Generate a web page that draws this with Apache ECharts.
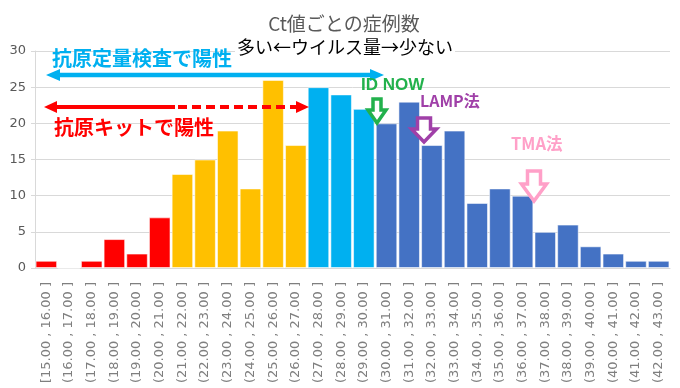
<!DOCTYPE html>
<html>
<head>
<meta charset="utf-8">
<script src="https://cdn.jsdelivr.net/npm/echarts@6/dist/echarts.min.js"></script>
<style>
html,body{margin:0;padding:0;background:#fff;}
#chart{width:680px;height:388px;}
</style>
</head>
<body>
<div id="chart"></div>
<script>
const categories = [
  "[15.00 , 16.00 ]","(16.00 , 17.00 ]","(17.00 , 18.00 ]","(18.00 , 19.00 ]","(19.00 , 20.00 ]",
  "(20.00 , 21.00 ]","(21.00 , 22.00 ]","(22.00 , 23.00 ]","(23.00 , 24.00 ]","(24.00 , 25.00 ]",
  "(25.00 , 26.00 ]","(26.00 , 27.00 ]","(27.00 , 28.00 ]","(28.00 , 29.00 ]","(29.00 , 30.00 ]",
  "(30.00 , 31.00 ]","(31.00 , 32.00 ]","(32.00 , 33.00 ]","(33.00 , 34.00 ]","(34.00 , 35.00 ]",
  "(35.00 , 36.00 ]","(36.00 , 37.00 ]","(37.00 , 38.00 ]","(38.00 , 39.00 ]","(39.00 , 40.00 ]",
  "(40.00 , 41.00 ]","(41.00 , 42.00 ]","(42.00 , 43.00 ]"
];
const binLower = [15,16,17,18,19,20,21,22,23,24,25,26,27,28,29,30,31,32,33,34,35,36,37,38,39,40,41,42];
const cases = [1,0,1,4,2,7,13,15,19,11,26,17,25,24,22,20,23,17,19,9,11,10,5,6,3,2,1,1];
const yTicks = [0,5,10,15,20,25,30];

function colorFor(lo){
  if (lo < 21) return '#FF0000';
  if (lo < 27) return '#FFC000';
  if (lo < 30) return '#00B0F0';
  return '#4472C4';
}

const JP = '"Noto Sans CJK JP","Noto Sans",sans-serif';
const chart = echarts.init(document.getElementById('chart'));

function downArrow(cx, top, headY, tip, shaftW, headW, color){
  const s = shaftW/2, h = headW/2;
  return {
    type:'polygon', z:100,
    shape:{points:[[cx-s,top],[cx+s,top],[cx+s,headY],[cx+h,headY],[cx,tip],[cx-h,headY],[cx-s,headY]]},
    style:{fill:'#fff', stroke:color, lineWidth:3.5, lineJoin:'miter'}
  };
}

const option = {
  backgroundColor:'#fff',
  animation:false,
  title:{
    text:'Ct値ごとの症例数', left:339, top:9, textAlign:'center',
    textStyle:{fontFamily:JP, fontSize:19, fontWeight:'normal', color:'#595959'}
  },
  grid:{left:35, right:10, top:51, bottom:120, containLabel:false},
  xAxis:{
    type:'category', data:categories,
    axisLine:{lineStyle:{color:'#d9d9d9'}},
    axisTick:{show:false},
    axisLabel:{rotate:90, interval:0, color:'#7f7f7f', fontSize:13, margin:14,
      fontFamily:'"DejaVu Sans",sans-serif'}
  },
  yAxis:{
    type:'value', min:0, max:30, interval:5,
    axisLine:{show:true, lineStyle:{color:'#d9d9d9'}},
    axisTick:{show:true, length:4, lineStyle:{color:'#d9d9d9'}},
    splitLine:{lineStyle:{color:'#d9d9d9'}},
    axisLabel:{color:'#595959', fontSize:13, margin:9, fontFamily:'"DejaVu Sans",sans-serif',
      formatter:v => yTicks.includes(v) ? String(v) : ''}
  },
  series:[{
    type:'bar', barCategoryGap:'5%',
    data:cases.map((v,i)=>({value:v, itemStyle:{color:colorFor(binLower[i])}})),
    itemStyle:{borderColor:'rgba(255,255,255,0.55)', borderWidth:1}
  }],
  graphic:[
    {type:'text', left:235, top:37, z:50,
     style:{text:'多い←ウイルス量→少ない', fontFamily:JP, fontSize:18, fill:'#000',
       backgroundColor:'#fff', padding:[1,2]}},
    {type:'text', left:52, top:48, z:50,
     style:{text:'抗原定量検査で陽性', fontFamily:JP, fontSize:20, fontWeight:'bold', fill:'#00B0F0'}},
    // blue double arrow
    {type:'line', z:50, shape:{x1:57,y1:75,x2:372,y2:75}, style:{stroke:'#00B0F0', lineWidth:4.5}},
    {type:'polygon', z:50, shape:{points:[[46,75],[60,69],[60,81]]}, style:{fill:'#00B0F0'}},
    {type:'polygon', z:50, shape:{points:[[384,75],[370,69],[370,81]]}, style:{fill:'#00B0F0'}},
    // red arrow
    {type:'line', z:50, shape:{x1:55,y1:107,x2:175,y2:107}, style:{stroke:'#FF0000', lineWidth:4}},
    {type:'line', z:50, shape:{x1:178,y1:107,x2:298,y2:107}, style:{stroke:'#FF0000', lineWidth:4, lineDash:[9,5]}},
    {type:'polygon', z:50, shape:{points:[[44,107],[57,101],[57,113]]}, style:{fill:'#FF0000'}},
    {type:'polygon', z:50, shape:{points:[[309,107],[296,101],[296,113]]}, style:{fill:'#FF0000'}},
    {type:'text', left:54, top:117, z:50,
     style:{text:'抗原キットで陽性', fontFamily:JP, fontSize:20, fontWeight:'bold', fill:'#FF0000'}},
    // ID NOW
    {type:'text', left:361, top:77, z:50,
     style:{text:'ID NOW', fontFamily:'"Liberation Sans",sans-serif', fontSize:17, fontWeight:'bold', fill:'#22B14C'}},
    downArrow(377, 99, 110, 123, 8, 18, '#22B14C'),
    // LAMP
    {type:'text', left:420, top:93, z:50,
     style:{text:'LAMP法', fontFamily:JP, fontSize:16, fontWeight:'bold', fill:'#A040A8'}},
    downArrow(424, 118, 129, 142, 13, 25, '#A040A8'),
    // TMA
    {type:'text', left:511, top:135, z:50,
     style:{text:'TMA法', fontFamily:JP, fontSize:16.5, fontWeight:'bold', fill:'#FFA0C8'}},
    downArrow(534, 171, 184, 201, 13, 25, '#FFA0C8')
  ]
};
chart.setOption(option);
</script>
</body>
</html>
